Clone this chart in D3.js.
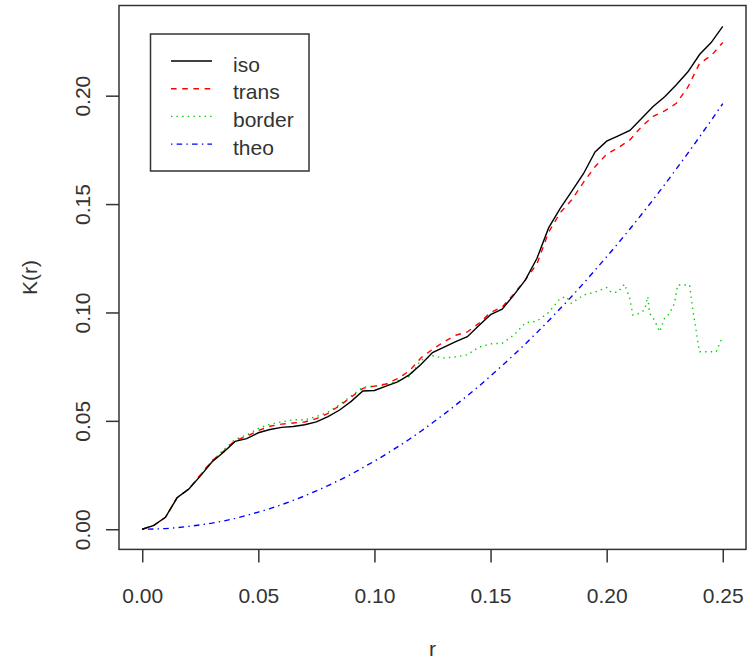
<!DOCTYPE html>
<html>
<head>
<meta charset="utf-8">
<script src="https://d3js.org/d3.v7.min.js"></script>
<style>
  body { margin: 0; background: #fff; }
  svg { display: block; font-family: "Liberation Sans", Arial, sans-serif; }
</style>
</head>
<body>
<svg id="chart" width="747" height="662"></svg>
<script>
// Data
const rGrid = [0, 0.005, 0.01, 0.015, 0.02, 0.025, 0.03, 0.035, 0.04, 0.045,
  0.05, 0.055, 0.06, 0.065, 0.07, 0.075, 0.08, 0.085, 0.09, 0.095,
  0.1, 0.105, 0.11, 0.115, 0.12, 0.125, 0.13, 0.135, 0.14, 0.145,
  0.15, 0.155, 0.16, 0.165, 0.17, 0.175, 0.18, 0.185, 0.19, 0.195,
  0.2, 0.205, 0.21, 0.215, 0.22, 0.225, 0.23, 0.235, 0.24, 0.245, 0.25];

const isoK = [0, 0.0018, 0.0055, 0.0145, 0.0185, 0.0245, 0.031, 0.0355, 0.0405, 0.0418,
  0.0445, 0.046, 0.047, 0.0474, 0.0482, 0.0495, 0.052, 0.055, 0.059, 0.0638,
  0.064, 0.066, 0.068, 0.0712, 0.076, 0.0815, 0.084, 0.0865, 0.0888, 0.094,
  0.099, 0.1015, 0.108, 0.115, 0.125, 0.139, 0.148, 0.156, 0.164, 0.174,
  0.179, 0.1815, 0.184, 0.1895, 0.195, 0.1995, 0.205, 0.211, 0.219, 0.2245, 0.232];

const transK = [0, 0.0018, 0.0055, 0.0145, 0.0185, 0.025, 0.0315, 0.036, 0.041, 0.0428,
  0.0455, 0.0475, 0.0485, 0.049, 0.0495, 0.051, 0.0535, 0.057, 0.061, 0.065,
  0.066, 0.067, 0.0695, 0.073, 0.079, 0.083, 0.0865, 0.0895, 0.091, 0.095,
  0.1, 0.1025, 0.1085, 0.115, 0.1225, 0.137, 0.146, 0.152, 0.16, 0.1672,
  0.173, 0.176, 0.1796, 0.1857, 0.1905, 0.193, 0.1965, 0.204, 0.2149, 0.2185, 0.2245];

const theoK = [0, 0.0001, 0.0003, 0.0007, 0.0013, 0.002, 0.0028, 0.0038, 0.005, 0.0064,
  0.0079, 0.0095, 0.0113, 0.0133, 0.0154, 0.0177, 0.0201, 0.0227, 0.0254, 0.0284,
  0.0314, 0.0346, 0.038, 0.0415, 0.0452, 0.0491, 0.0531, 0.0573, 0.0616, 0.066,
  0.0707, 0.0755, 0.0804, 0.0855, 0.0908, 0.0962, 0.1018, 0.1075, 0.1134, 0.1195,
  0.1257, 0.132, 0.1385, 0.1452, 0.152, 0.159, 0.1662, 0.1735, 0.181, 0.1886, 0.1963];

const borderR = [0, 0.005, 0.01, 0.015, 0.02, 0.025, 0.03, 0.035, 0.04, 0.045,
  0.05, 0.055, 0.06, 0.065, 0.07, 0.075, 0.08, 0.085, 0.09, 0.095,
  0.1, 0.105, 0.11, 0.115, 0.12, 0.125, 0.13, 0.135, 0.14, 0.145,
  0.15, 0.155, 0.16, 0.165, 0.17, 0.175, 0.18, 0.1826, 0.1848, 0.19,
  0.1955, 0.2, 0.202, 0.2048, 0.2077, 0.2099, 0.2113, 0.2142, 0.2163, 0.2177,
  0.2185, 0.2206, 0.2228, 0.2249, 0.2271, 0.2292, 0.2306, 0.2357, 0.2371, 0.2385,
  0.2399, 0.2472, 0.2493, 0.25];

const borderK = [0, 0.0018, 0.0055, 0.0145, 0.0185, 0.025, 0.0315, 0.0365, 0.0415, 0.0435,
  0.0465, 0.0485, 0.0495, 0.0505, 0.0505, 0.052, 0.054, 0.0575, 0.0615, 0.0655,
  0.066, 0.0665, 0.0685, 0.0705, 0.078, 0.08, 0.079, 0.0795, 0.0805, 0.084,
  0.0855, 0.0858, 0.0895, 0.0952, 0.096, 0.1, 0.1065, 0.1073, 0.1042, 0.108,
  0.1096, 0.1115, 0.1093, 0.1093, 0.1131, 0.1066, 0.0988, 0.0996, 0.1012, 0.1073,
  0.0996, 0.0965, 0.0911, 0.0973, 0.0996, 0.1042, 0.1127, 0.1127, 0.1012, 0.0919,
  0.0819, 0.0819, 0.0873, 0.0875];

const xTicks = [0, 0.05, 0.1, 0.15, 0.2, 0.25];
const yTicks = [0, 0.05, 0.1, 0.15, 0.2];
const legendLabels = ['iso', 'trans', 'border', 'theo'];

// Styles
const seriesStyle = {
  iso: { color: '#000000', dash: null },
  trans: { color: '#ff0000', dash: '5.6,5.6' },
  border: { color: '#00cd00', dash: '1.4,4.2' },
  theo: { color: '#0000ff', dash: '1.4,4.2,5.6,4.2' }
};

const svg = d3.select('#chart');
const box = { left: 119, right: 746, top: 5.5, bottom: 549.4 };
const fontSize = 21;
const textColor = '#333';

// Scales (R style 4% padding)
const x = d3.scaleLinear().domain([-0.01, 0.26]).range([box.left, box.right]);
const y = d3.scaleLinear().domain([-0.0093, 0.2416]).range([box.bottom, box.top]);

svg.append('rect')
  .attr('width', 747).attr('height', 662).attr('fill', '#fff');

// Series
const series = [
  { name: 'iso', r: rGrid, k: isoK },
  { name: 'trans', r: rGrid, k: transK },
  { name: 'border', r: borderR, k: borderK },
  { name: 'theo', r: rGrid, k: theoK }
];

const line = d3.line()
  .x(d => x(d[0]))
  .y(d => y(d[1]));

const plot = svg.append('g').attr('class', 'lines');

// draw theo first so the observed curves sit on top
[series[3], series[2], series[1], series[0]].forEach(s => {
  const pts = s.r.map((r, i) => [r, s.k[i]]);
  plot.append('path')
    .datum(pts)
    .attr('d', line)
    .attr('fill', 'none')
    .attr('stroke', seriesStyle[s.name].color)
    .attr('stroke-width', 1.4)
    .attr('stroke-dasharray', seriesStyle[s.name].dash);
});

// Box
svg.append('rect')
  .attr('x', box.left)
  .attr('y', box.top)
  .attr('width', box.right - box.left)
  .attr('height', box.bottom - box.top)
  .attr('fill', 'none')
  .attr('stroke', '#333')
  .attr('stroke-width', 1.5);

// X axis
const xAxis = svg.append('g')
  .attr('transform', `translate(0, ${box.bottom})`)
  .call(d3.axisBottom(x).tickValues(xTicks).tickSize(13).tickFormat(d3.format('.2f')));

xAxis.select('.domain').remove();
xAxis.selectAll('line').attr('stroke', '#333').attr('stroke-width', 1.5);
xAxis.selectAll('text')
  .attr('y', 603 - box.bottom)
  .attr('dy', null)
  .attr('font-size', fontSize)
  .attr('font-family', null)
  .attr('fill', textColor);

// Y axis
const yAxis = svg.append('g')
  .attr('transform', `translate(${box.left}, 0)`)
  .call(d3.axisLeft(y).tickValues(yTicks).tickSize(13).tickFormat(d3.format('.2f')));

yAxis.select('.domain').remove();
yAxis.selectAll('line').attr('stroke', '#333').attr('stroke-width', 1.5);
yAxis.selectAll('text')
  .attr('x', null)
  .attr('dy', null)
  .attr('text-anchor', 'middle')
  .attr('transform', `translate(${90 - box.left}, 0) rotate(-90)`)
  .attr('font-size', fontSize)
  .attr('font-family', null)
  .attr('fill', textColor);

// Axis titles
svg.append('text')
  .attr('x', (box.left + box.right) / 2)
  .attr('y', 656)
  .attr('text-anchor', 'middle')
  .attr('font-size', fontSize)
  .attr('fill', textColor)
  .text('r');

svg.append('text')
  .attr('transform', `translate(36.5, ${(box.top + box.bottom) / 2}) rotate(-90)`)
  .attr('text-anchor', 'middle')
  .attr('font-size', fontSize)
  .attr('fill', textColor)
  .text('K(r)');

// Legend
const legend = svg.append('g').attr('class', 'legend');
legend.append('rect')
  .attr('x', 150.5)
  .attr('y', 34)
  .attr('width', 158.5)
  .attr('height', 137)
  .attr('fill', '#fff')
  .attr('stroke', '#333')
  .attr('stroke-width', 1.5);

legendLabels.forEach((name, i) => {
  const ly = 61 + i * 27.7;
  legend.append('line')
    .attr('x1', 171).attr('x2', 212)
    .attr('y1', ly).attr('y2', ly)
    .attr('stroke', seriesStyle[name].color)
    .attr('stroke-width', 1.4)
    .attr('stroke-dasharray', seriesStyle[name].dash);
  legend.append('text')
    .attr('x', 233)
    .attr('y', ly + 10.5)
    .attr('font-size', fontSize)
    .attr('fill', textColor)
    .text(name);
});
</script>
</body>
</html>
